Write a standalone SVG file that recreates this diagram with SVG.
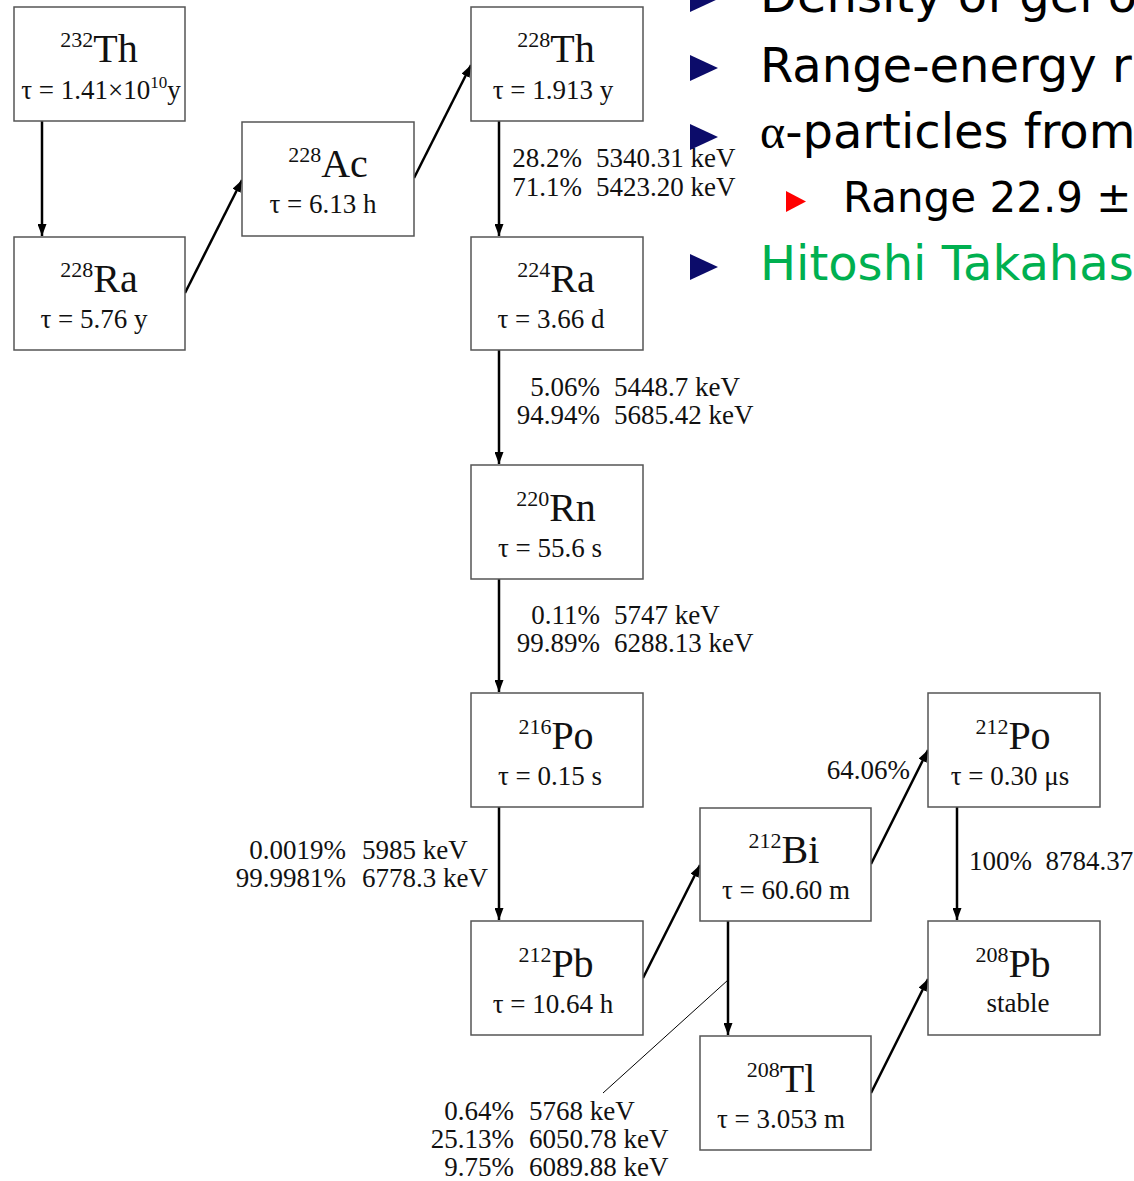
<svg xmlns="http://www.w3.org/2000/svg" width="1134" height="1181" viewBox="0 0 1134 1181">
<style>
.box{fill:#fff;stroke:#555;stroke-width:1.5}
.sym{font-family:"Liberation Serif","DejaVu Serif",serif;font-size:40px;fill:#111;text-anchor:middle}
.sup{font-size:22px}
.life{font-family:"Liberation Serif","DejaVu Serif",serif;font-size:27px;fill:#111;text-anchor:middle}
.lbl{font-family:"Liberation Serif","DejaVu Serif",serif;font-size:27px;fill:#111;white-space:pre}
.r{text-anchor:end}
.arr{stroke:#000;stroke-width:2.5;fill:none;marker-end:url(#ah)}
.lead{stroke:#000;stroke-width:1;fill:none}
.bt{font-family:"DejaVu Sans","Verdana",sans-serif;font-size:48px;fill:#000}
.bs{font-family:"DejaVu Sans","Verdana",sans-serif;font-size:42px;fill:#000}
.nav{fill:#0c0c6a}
</style>
<defs>
<marker id="ah" viewBox="0 0 12 9" refX="12" refY="4.5" markerWidth="12" markerHeight="9" markerUnits="userSpaceOnUse" orient="auto">
<path d="M0,0 L12,4.5 L0,9 Z" fill="#000"/>
</marker>
</defs>
<rect width="1134" height="1181" fill="#fff"/>

<g id="connectors">
<line class="arr" x1="42" y1="121" x2="42" y2="236"/>
<line class="arr" x1="185" y1="293" x2="242" y2="180"/>
<line class="arr" x1="414" y1="178" x2="471" y2="65"/>
<line class="arr" x1="499" y1="121" x2="499" y2="236"/>
<line class="arr" x1="499" y1="350" x2="499" y2="464"/>
<line class="arr" x1="499" y1="579" x2="499" y2="692"/>
<line class="arr" x1="499" y1="807" x2="499" y2="920"/>
<line class="arr" x1="643" y1="978" x2="700" y2="865"/>
<line class="arr" x1="871" y1="864" x2="928" y2="750"/>
<line class="arr" x1="957" y1="807" x2="957" y2="920"/>
<line class="arr" x1="728" y1="921" x2="728" y2="1035"/>
<line class="arr" x1="871" y1="1093" x2="928" y2="979"/>
<line class="lead" x1="728" y1="980" x2="603" y2="1093"/>
</g>

<g id="labels">
<text class="lbl r" x="582" y="167">28.2%</text><text class="lbl" x="596" y="167">5340.31 keV</text>
<text class="lbl r" x="582" y="196">71.1%</text><text class="lbl" x="596" y="196">5423.20 keV</text>
<text class="lbl r" x="600" y="396">5.06%</text><text class="lbl" x="614" y="396">5448.7 keV</text>
<text class="lbl r" x="600" y="424">94.94%</text><text class="lbl" x="614" y="424">5685.42 keV</text>
<text class="lbl r" x="600" y="624">0.11%</text><text class="lbl" x="614" y="624">5747 keV</text>
<text class="lbl r" x="600" y="652">99.89%</text><text class="lbl" x="614" y="652">6288.13 keV</text>
<text class="lbl r" x="346" y="859">0.0019%</text><text class="lbl" x="362" y="859">5985 keV</text>
<text class="lbl r" x="346" y="887">99.9981%</text><text class="lbl" x="362" y="887">6778.3 keV</text>
<text class="lbl r" x="910" y="779">64.06%</text>
<text class="lbl" x="969" y="870">100%  8784.37</text>
<text class="lbl r" x="514" y="1120">0.64%</text><text class="lbl" x="529" y="1120">5768 keV</text>
<text class="lbl r" x="514" y="1148">25.13%</text><text class="lbl" x="529" y="1148">6050.78 keV</text>
<text class="lbl r" x="514" y="1176">9.75%</text><text class="lbl" x="529" y="1176">6089.88 keV</text>
</g>

<g id="n-th232">
<rect class="box" x="14" y="7" width="171" height="114"/>
<text class="sym" x="99" y="62"><tspan class="sup" dy="-15">232</tspan><tspan dy="15">Th</tspan></text>
<text class="life" x="101" y="99">τ = 1.41×10<tspan font-size="17" dy="-11">10</tspan><tspan dy="11">y</tspan></text>
</g>
<g id="n-ra228">
<rect class="box" x="14" y="237" width="171" height="113"/>
<text class="sym" x="99" y="292"><tspan class="sup" dy="-15">228</tspan><tspan dy="15">Ra</tspan></text>
<text class="life" x="94" y="328">τ = 5.76 y</text>
</g>
<g id="n-ac228">
<rect class="box" x="242" y="122" width="172" height="114"/>
<text class="sym" x="328" y="177"><tspan class="sup" dy="-15">228</tspan><tspan dy="15">Ac</tspan></text>
<text class="life" x="323" y="213">τ = 6.13 h</text>
</g>
<g id="n-th228">
<rect class="box" x="471" y="7" width="172" height="114"/>
<text class="sym" x="556" y="62"><tspan class="sup" dy="-15">228</tspan><tspan dy="15">Th</tspan></text>
<text class="life" x="553" y="99">τ = 1.913 y</text>
</g>
<g id="n-ra224">
<rect class="box" x="471" y="237" width="172" height="113"/>
<text class="sym" x="556" y="292"><tspan class="sup" dy="-15">224</tspan><tspan dy="15">Ra</tspan></text>
<text class="life" x="551" y="328">τ = 3.66 d</text>
</g>
<g id="n-rn220">
<rect class="box" x="471" y="465" width="172" height="114"/>
<text class="sym" x="556" y="521"><tspan class="sup" dy="-15">220</tspan><tspan dy="15">Rn</tspan></text>
<text class="life" x="550" y="557">τ = 55.6 s</text>
</g>
<g id="n-po216">
<rect class="box" x="471" y="693" width="172" height="114"/>
<text class="sym" x="556" y="749"><tspan class="sup" dy="-15">216</tspan><tspan dy="15">Po</tspan></text>
<text class="life" x="550" y="785">τ = 0.15 s</text>
</g>
<g id="n-pb212">
<rect class="box" x="471" y="921" width="172" height="114"/>
<text class="sym" x="556" y="977"><tspan class="sup" dy="-15">212</tspan><tspan dy="15">Pb</tspan></text>
<text class="life" x="553" y="1013">τ = 10.64 h</text>
</g>
<g id="n-bi212">
<rect class="box" x="700" y="808" width="171" height="113"/>
<text class="sym" x="784" y="863"><tspan class="sup" dy="-15">212</tspan><tspan dy="15">Bi</tspan></text>
<text class="life" x="786" y="899">τ = 60.60 m</text>
</g>
<g id="n-po212">
<rect class="box" x="928" y="693" width="172" height="114"/>
<text class="sym" x="1013" y="749"><tspan class="sup" dy="-15">212</tspan><tspan dy="15">Po</tspan></text>
<text class="life" x="1010" y="785">τ = 0.30 μs</text>
</g>
<g id="n-pb208">
<rect class="box" x="928" y="921" width="172" height="114"/>
<text class="sym" x="1013" y="977"><tspan class="sup" dy="-15">208</tspan><tspan dy="15">Pb</tspan></text>
<text class="life" x="1018" y="1012">stable</text>
</g>
<g id="n-tl208">
<rect class="box" x="700" y="1036" width="171" height="114"/>
<text class="sym" x="781" y="1092"><tspan class="sup" dy="-15">208</tspan><tspan dy="15">Tl</tspan></text>
<text class="life" x="781" y="1128">τ = 3.053 m</text>
</g>

<g id="bullets">
<polygon class="nav" points="690,-14 718,-1 690,12"/>
<text class="bt" x="760" y="12">Density of gel o</text>
<polygon class="nav" points="690,55 718,68 690,81"/>
<text class="bt" x="760" y="82">Range-energy r</text>
<polygon class="nav" points="690,124 718,137 690,150"/>
<text class="bt" x="760" y="148"><tspan font-family="Liberation Serif, serif">α</tspan>-particles from</text>
<polygon points="786,191 806,201.5 786,212" fill="#f00"/>
<text class="bs" x="843" y="212">Range 22.9 ±</text>
<polygon class="nav" points="690,254 718,267 690,280"/>
<text class="bt" x="760" y="280" style="fill:#00b050">Hitoshi Takahas</text>
</g>
</svg>
